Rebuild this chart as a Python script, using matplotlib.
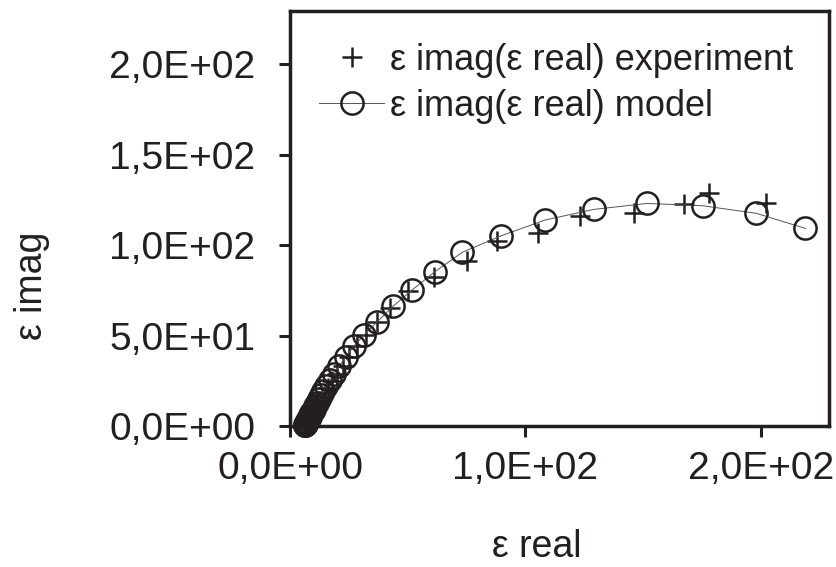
import matplotlib
matplotlib.use("Agg")
import matplotlib.pyplot as plt
from matplotlib.ticker import FuncFormatter

# model (circles + thin line), eps real / eps imag
model_re = [6.3, 6.4, 6.5, 6.6, 6.8, 7.0, 7.2, 7.4, 7.7, 8.0, 8.3, 8.7, 9.1, 9.6,
            10.1, 10.7, 11.4, 12.2, 13.1, 14.2, 15.5, 17.0, 18.8, 21.0,
            23.7, 27.2, 31.4, 37.1, 43.9, 51.8, 61.4, 73.2, 89.5, 108.3,
            129.1, 151.7, 175.5, 198.2, 219.0]
model_im = [0.3, 0.5, 0.8, 1.1, 1.5, 1.9, 2.4, 3.0, 3.6, 4.3, 5.1, 6.0, 7.0, 8.2,
            9.5, 11.0, 12.7, 14.7, 16.9, 19.4, 22.2, 25.4, 29.0, 33.2,
            38.3, 44.2, 50.3, 57.6, 66.3, 75.1, 85.1, 96.0, 105.0, 113.8,
            119.7, 123.0, 121.7, 117.5, 109.2]

# experiment (plus signs)
exp_re = [6.5, 6.7, 6.9, 7.1, 7.4, 7.7, 8.1, 8.5, 9.0, 9.5, 10.1, 10.8, 11.6,
          12.5, 13.6, 14.8, 16.2, 17.9, 19.9, 22.3, 25.2, 28.5, 32.3,
          36.8, 42.5, 50.2, 61.1, 75.0, 87.8, 105.4, 123.4, 146.1, 167.3,
          178.0, 202.1]
exp_im = [0.5, 0.9, 1.4, 2.0, 2.6, 3.3, 4.1, 5.0, 6.0, 7.2, 8.5, 10.0, 11.7,
          13.6, 15.8, 18.3, 21.2, 24.6, 28.5, 33.0, 38.2, 44.0, 50.5,
          57.6, 65.0, 74.8, 82.5, 91.3, 102.4, 106.8, 116.0, 117.5, 122.7,
          128.6, 123.0]

x_ticks = [0, 100, 200]
y_ticks = [0, 50, 100, 150, 200]
lbl_exp = "ε imag(ε real) experiment"
lbl_mod = "ε imag(ε real) model"

INK = "#231f20"
plt.rcParams['font.family'] = ['Liberation Sans', 'DejaVu Sans']

fig = plt.figure(figsize=(8.37, 5.67), dpi=100)
ax = fig.add_axes([0.3465, 0.2487, 0.9904 - 0.3465, 0.9811 - 0.2487])

ax.plot(exp_re, exp_im, linestyle='none', marker='+', ms=14.5, mew=1.8,
        color=INK, clip_on=False, zorder=4, label=lbl_exp)
ax.plot(model_re, model_im, '-', lw=0.7, color='#555555', marker='o', ms=16,
        mfc='none', mec=INK, mew=1.8, clip_on=False, zorder=5, label=lbl_mod)

ax.set_xlim(0, 229)
ax.set_ylim(0, 229.5)
ax.set_xticks(x_ticks)
ax.set_yticks(y_ticks)
fmt = FuncFormatter(lambda v, p: f"{v:.1E}".replace('.', ','))
ax.xaxis.set_major_formatter(fmt)
ax.yaxis.set_major_formatter(fmt)

for s in ax.spines.values():
    s.set_linewidth(2.5)
    s.set_color(INK)
ax.tick_params(axis='both', direction='out', length=8, width=2.2, colors=INK,
               labelsize=28, labelcolor=INK)
ax.tick_params(axis='x', pad=10)
ax.tick_params(axis='y', pad=17)

ax.set_xlabel("ε real", fontsize=27, color=INK, va='baseline')
ax.xaxis.set_label_coords((537 - 290) / 539, (426 - 557) / 415.3)
ax.set_ylabel("ε imag", fontsize=27, color=INK, va='center')
ax.yaxis.set_label_coords((32 - 290) / 539, (426 - 286) / 415.3)

ax.legend(loc='upper left', bbox_to_anchor=(0.054, 0.922), frameon=False,
          fontsize=26, handlelength=1.8, handletextpad=0.15, labelspacing=0.3,
          borderaxespad=0, borderpad=0, labelcolor=INK)

fig.savefig("out.png", dpi=100)
